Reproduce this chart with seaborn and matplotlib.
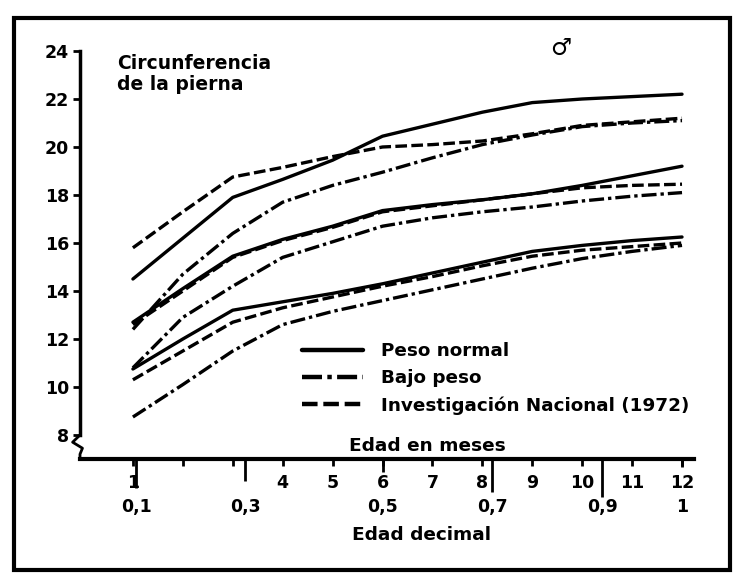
import matplotlib
matplotlib.use("Agg")
import matplotlib.pyplot as plt
from matplotlib.lines import Line2D
from matplotlib.patches import Rectangle
import matplotlib.transforms as mtransforms
import pandas as pd
import seaborn as sns

# edad en meses (eje x) y circunferencia de la pierna (cm)
meses = [1, 2, 3, 4, 5, 6, 7, 8, 9, 10, 11, 12]

normal_alto = [14.5, 16.2, 17.9, 18.65, 19.45, 20.45, 20.95, 21.45, 21.85, 22.0, 22.1, 22.2]
normal_medio = [12.7, 14.1, 15.45, 16.15, 16.7, 17.35, 17.6, 17.8, 18.05, 18.4, 18.8, 19.2]
normal_bajo = [10.75, 12.0, 13.2, 13.55, 13.9, 14.3, 14.75, 15.2, 15.65, 15.9, 16.1, 16.25]

bajo_peso_alto = [12.4, 14.7, 16.4, 17.7, 18.4, 18.95, 19.55, 20.1, 20.5, 20.85, 21.0, 21.1]
bajo_peso_medio = [10.8, 12.9, 14.2, 15.4, 16.05, 16.7, 17.05, 17.3, 17.5, 17.75, 17.95, 18.1]
bajo_peso_bajo = [8.75, 10.1, 11.5, 12.6, 13.15, 13.6, 14.05, 14.5, 14.95, 15.35, 15.65, 15.9]

nacional_alto = [15.8, 17.3, 18.75, 19.15, 19.6, 20.0, 20.1, 20.25, 20.55, 20.9, 21.05, 21.2]
nacional_medio = [12.6, 14.0, 15.4, 16.1, 16.65, 17.3, 17.55, 17.8, 18.05, 18.3, 18.4, 18.45]
nacional_bajo = [10.3, 11.5, 12.7, 13.3, 13.75, 14.2, 14.6, 15.05, 15.45, 15.7, 15.85, 16.0]

series = ["Peso normal", "Bajo peso", "Investigación Nacional (1972)"]

y_ticks = [8, 10, 12, 14, 16, 18, 20, 22, 24]
mes_labels = ["1", "", "", "4", "5", "6", "7", "8", "9", "10", "11", "12"]
# marcas de edad decimal, colocadas sobre la escala de meses del dibujo
decimal_pos = [1.07, 3.25, 6.0, 8.2, 10.4, 12.0]
decimal_labels = ["0,1", "0,3", "0,5", "0,7", "0,9", "1"]
decimal_tick_len = [21, 16, 9, 24, 27, 6]

curvas = {
    ("Peso normal", "alto"): normal_alto,
    ("Peso normal", "medio"): normal_medio,
    ("Peso normal", "bajo"): normal_bajo,
    ("Bajo peso", "alto"): bajo_peso_alto,
    ("Bajo peso", "medio"): bajo_peso_medio,
    ("Bajo peso", "bajo"): bajo_peso_bajo,
    ("Investigación Nacional (1972)", "alto"): nacional_alto,
    ("Investigación Nacional (1972)", "medio"): nacional_medio,
    ("Investigación Nacional (1972)", "bajo"): nacional_bajo,
}
rows = []
for (serie, nivel), vals in curvas.items():
    for m, v in zip(meses, vals):
        rows.append({"mes": m, "cm": v, "serie": serie, "curva": serie + nivel})
df = pd.DataFrame(rows)

sns.set_theme(style="white")
plt.rcParams["font.family"] = ["DejaVu Sans"]
plt.rcParams["font.weight"] = "bold"
plt.rcParams["text.color"] = "black"
plt.rcParams["xtick.color"] = "black"
plt.rcParams["ytick.color"] = "black"
plt.rcParams["lines.solid_joinstyle"] = "round"
plt.rcParams["lines.dash_joinstyle"] = "round"

fig = plt.figure(figsize=(7.35, 5.73), dpi=100)
ax = fig.add_axes([80 / 735, 1 - 459 / 573, 614 / 735, 408 / 573])

dash_map = {
    "Peso normal": "",
    "Bajo peso": (4.5, 1.2, 1.0, 1.2),
    "Investigación Nacional (1972)": (3.5, 1.3),
}
sns.lineplot(data=df, x="mes", y="cm", style="serie", units="curva",
             estimator=None, color="black", dashes=dash_map, lw=2.4,
             legend=False, ax=ax, style_order=series)

ax.set_xlim(-0.06, 12.24)
ax.set_ylim(7.0, 24.0)
ax.set_xlabel("")
ax.set_ylabel("")

for s in ["top", "right"]:
    ax.spines[s].set_visible(False)
ax.spines["left"].set_linewidth(2.5)
ax.spines["bottom"].set_linewidth(3)
ax.spines["left"].set_color("black")
ax.spines["bottom"].set_color("black")
ax.spines["left"].set_bounds(8, 24)

ax.set_yticks(y_ticks)
ax.set_yticklabels([str(t) for t in y_ticks])
ax.tick_params(axis="y", direction="out", length=5, width=2, pad=3,
               labelsize=12.5, left=True, color="black", labelcolor="black")

ax.xaxis.remove_overlapping_locs = False
ax.set_xticks(meses)
ax.set_xticklabels(mes_labels)
ax.set_xticks(decimal_pos, minor=True)
ax.set_xticklabels(decimal_labels, minor=True)
ax.tick_params(axis="x", which="major", direction="out", length=5, width=2,
               pad=6, labelsize=12.5, bottom=True, color="black", labelcolor="black")
ax.tick_params(axis="x", which="minor", direction="out", length=22, width=2,
               pad=6, labelsize=12.5, bottom=True, color="black", labelcolor="black")
for lab in ax.get_xticklabels() + ax.get_xticklabels(minor=True) + ax.get_yticklabels():
    lab.set_fontweight("bold")
for tick, ln in zip(ax.xaxis.get_minor_ticks(), decimal_tick_len):
    tick.tick1line.set_markersize(ln)

# corte del eje y
trans = mtransforms.blended_transform_factory(ax.transAxes, ax.transData)
ax.plot([0, -0.012, 0.004, 0.0, 0.0], [8.0, 7.7, 7.45, 7.2, 7.0], color="black",
        lw=2, transform=trans, clip_on=False)

handles = [Line2D([], [], color="black", lw=3.2, dashes=(None, None) if d == "" else d)
           for d in (dash_map[s] for s in series)]
handles[0].set_linestyle("-")
ax.legend(handles, series, loc="upper left", bbox_to_anchor=(302 / 735, 1 - 342 / 573),
          bbox_transform=fig.transFigure, frameon=False, handlelength=3.3,
          handletextpad=1.0, labelspacing=0.5, borderpad=0, borderaxespad=0,
          prop={"size": 13.2, "weight": "bold"})

fig.text(117 / 735, 1 - 54 / 573, "Circunferencia\nde la pierna", ha="left", va="top",
         fontsize=13.5, fontweight="bold", linespacing=1.15)
fig.text(561 / 735, 1 - 48 / 573, "♂", ha="center", va="center", fontsize=17,
         fontweight="bold")
fig.text(427 / 735, 1 - 446 / 573, "Edad en meses", ha="center", va="center",
         fontsize=13.3, fontweight="bold")
fig.text(422 / 735, 1 - 535 / 573, "Edad decimal", ha="center", va="center",
         fontsize=13.3, fontweight="bold")

fig.patches.append(Rectangle((14 / 735, 3 / 573), 716 / 735, 552 / 573,
                             transform=fig.transFigure, fill=False,
                             edgecolor="black", lw=3))

fig.savefig("out.png", dpi=100)
